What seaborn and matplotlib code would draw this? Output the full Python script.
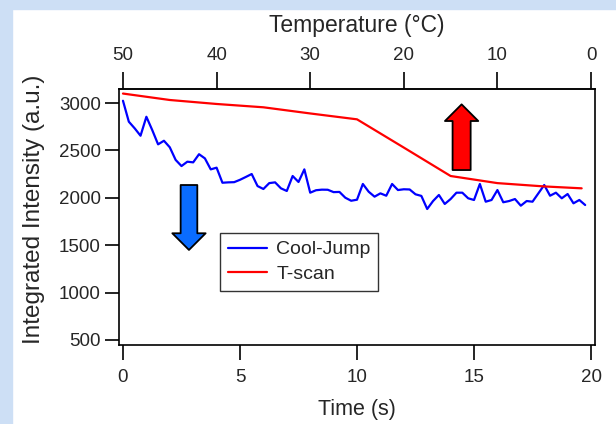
import numpy as np
import pandas as pd
import matplotlib.pyplot as plt
import seaborn as sns
from matplotlib.patches import FancyArrowPatch, Rectangle, ArrowStyle

# Cool-Jump: sampled every 0.25 s
cool_time = np.arange(0, 20, 0.25)
cool_intensity = [
    3024, 2803, 2733, 2655, 2855, 2715, 2564, 2602, 2533, 2400,
    2335, 2381, 2374, 2460, 2416, 2300, 2318, 2159, 2163, 2165,
    2190, 2220, 2251, 2124, 2093, 2155, 2163, 2100, 2072, 2230,
    2167, 2300, 2054, 2080, 2086, 2085, 2060, 2062, 2001, 1969,
    1980, 2146, 2064, 2012, 2047, 2022, 2146, 2082, 2090, 2088,
    2037, 2020, 1882, 1966, 2030, 1935, 1987, 2054, 2054, 1995,
    1977, 2146, 1959, 1977, 2082, 1953, 1966, 1987, 1917, 1966,
    1959, 2047, 2135, 2022, 2054, 1995, 2040, 1942, 1977, 1924,
]

# T-scan
scan_time = [0, 2, 4, 6, 8, 10, 12, 14, 16, 18, 19.6]
scan_intensity = [3100, 3032, 2990, 2955, 2890, 2828, 2530, 2230, 2155, 2120, 2100]

x_ticks = [0, 5, 10, 15, 20]
y_ticks = [500, 1000, 1500, 2000, 2500, 3000]
temp_ticks = [50, 40, 30, 20, 10, 0]

cool = pd.DataFrame({"Time": cool_time, "Intensity": cool_intensity})
scan = pd.DataFrame({"Time": scan_time, "Intensity": scan_intensity})

sns.set_style("white")
plt.rcParams["font.family"] = ["Liberation Sans", "DejaVu Sans"]

fig = plt.figure(figsize=(6.16, 4.24), dpi=100)
fig.patch.set_facecolor("white")
# light blue slide border on top and left
fig.patches.append(Rectangle((0, 0), 12 / 616, 1, transform=fig.transFigure,
                             color="#cddff5", zorder=0))
fig.patches.append(Rectangle((0, 1 - 9 / 424), 1, 9 / 424, transform=fig.transFigure,
                             color="#cddff5", zorder=0))

ax = fig.add_axes([119 / 616, 1 - 345 / 424, 476 / 616, 256 / 424])

sns.lineplot(data=cool, x="Time", y="Intensity", color="#0000ff", lw=1.6,
             label="Cool-Jump", ax=ax)
sns.lineplot(data=scan, x="Time", y="Intensity", color="#ff0000", lw=1.6,
             label="T-scan", ax=ax)

ax.set_xlim(-0.17, 20.17)
ax.set_ylim(447, 3148)
ax.set_xticks(x_ticks)
ax.set_yticks(y_ticks)
ax.set_xlabel("Time (s)", fontsize=15.5, labelpad=10)
ax.set_ylabel("Integrated Intensity (a.u.)", fontsize=17.5)
ax.yaxis.set_label_coords(-0.155, 0.53)
ax.tick_params(axis="x", bottom=True, direction="out", length=11, width=1.2,
               color="black", labelsize=13.5, pad=6)
ax.tick_params(axis="y", left=True, direction="out", length=10, width=1.2,
               color="black", labelsize=13.5, pad=3)
for sp in ax.spines.values():
    sp.set_visible(True)
    sp.set_color("black")
    sp.set_linewidth(1.2)

top = ax.secondary_xaxis("top", functions=(lambda t: 50 - 2.5 * t,
                                            lambda T: (50 - T) / 2.5))
top.set_xticks(temp_ticks)
top.set_xlabel("Temperature (°C)", fontsize=16.5, labelpad=11)
top.tick_params(top=True, direction="out", length=12, width=1.2,
                color="black", labelsize=13.5, pad=6)
top.spines["top"].set_linewidth(1.2)

# arrows
down = FancyArrowPatch((2.82, 2135), (2.82, 1450),
                       arrowstyle=ArrowStyle.Simple(head_length=12, head_width=24, tail_width=12),
                       mutation_scale=1, shrinkA=0, shrinkB=0,
                       facecolor="#0a6cff", edgecolor="black", lw=1.3, zorder=4)
up = FancyArrowPatch((14.47, 2293), (14.47, 2986),
                     arrowstyle=ArrowStyle.Simple(head_length=12, head_width=24, tail_width=13),
                     mutation_scale=1, shrinkA=0, shrinkB=0,
                     facecolor="#ff0000", edgecolor="black", lw=1.3, zorder=4)
ax.add_patch(down)
ax.add_patch(up)

leg = ax.legend(loc="upper left", bbox_to_anchor=(0.212, 0.4375), fontsize=14,
                frameon=True, fancybox=False, edgecolor="black", handlelength=2.0,
                handletextpad=0.5, borderpad=0.4, labelspacing=0.35,
                borderaxespad=0)
leg.get_frame().set_linewidth(1.0)

fig.savefig("out.png", dpi=100, facecolor=fig.get_facecolor())
